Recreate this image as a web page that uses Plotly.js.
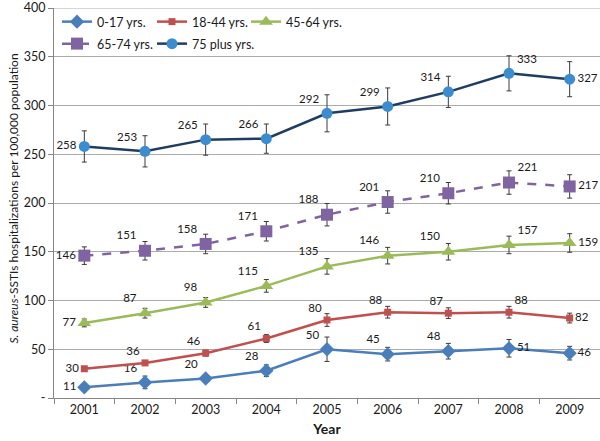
<!DOCTYPE html>
<html>
<head>
<meta charset="utf-8">
<script src="https://cdn.plot.ly/plotly-3.0.1.min.js"></script>
<style>html,body{margin:0;padding:0;background:#fff;}#chart{width:600px;height:441px;}</style>
</head>
<body>
<div id="chart"></div>
<script>
var years = ['2001','2002','2003','2004','2005','2006','2007','2008','2009'];
var seriesNames = ['0-17 yrs.','18-44 yrs.','45-64 yrs.','65-74 yrs.','75 plus yrs.'];
var age0_17  = [11,16,20,28,50,45,48,51,46];
var age18_44 = [30,36,46,61,80,88,87,88,82];
var age45_64 = [77,87,98,115,135,146,150,157,159];
var age65_74 = [146,151,158,171,188,201,210,221,217];
var age75p   = [258,253,265,266,292,299,314,333,327];
var err0_17  = [1,6.5,3.5,6,12.5,7,8,9,7];
var err18_44 = [1.5,2,3,4,6.5,6,5.5,6,5];
var err45_64 = [4,5,5,6.5,8,8.5,8.5,9,9.5];
var err65_74 = [9,9.5,10,10,11.5,11.5,11,12,12];
var err75p   = [16,16,16,15,19,19,16,18,18];
var yTickVals = [0,50,100,150,200,250,300,350,400];
var yTickText = ['-','50','100','150','200','250','300','350','400'];

var posA = ['middle left','top left','top left','top left','top left','top left','top left','top right','middle right'];
var posB = ['middle left','top left','top left','top left','top left','top left','top left','middle right','middle right'];

var FONT = 'Lato, sans-serif';
function mk(name, y, err, lineColor, lineDash, mSym, mSize, mColor, pos, legendId) {
  return {
    type: 'scatter', mode: 'lines+markers+text', name: name,
    x: years, y: y,
    text: y.map(String), textposition: pos,
    textfont: {family: FONT, size: 11.5, color: '#1a1a1a'},
    line: {color: lineColor, width: 2.5, dash: lineDash},
    marker: {symbol: mSym, size: mSize, color: mColor},
    error_y: {type: 'data', array: err, visible: true, color: '#3a3a3a', thickness: 1, width: 2.5},
    cliponaxis: false,
    legend: legendId
  };
}

var traces = [
  mk(seriesNames[0], age0_17, err0_17, '#4A7EBB', 'solid', 'diamond', 11, '#4A7EBB', posB, 'legend'),
  mk(seriesNames[1], age18_44, err18_44, '#C0504D', 'solid', 'square', 7, '#C0504D', posA, 'legend2'),
  mk(seriesNames[2], age45_64, err45_64, '#9BBB59', 'solid', 'triangle-up', 12, '#9BBB59', posA, 'legend3'),
  mk(seriesNames[3], age65_74, err65_74, '#8064A2', 'dash', 'square', 12, '#8064A2', posA, 'legend4'),
  mk(seriesNames[4], age75p, err75p, '#1F3D63', 'solid', 'circle', 11, '#3C8DD0', posA, 'legend5')
];

var T = 8, B = 43, PH = 441 - T - B;
function leg(px, rowPx) {
  return {
    orientation: 'h', bgcolor: 'rgba(0,0,0,0)', borderwidth: 0,
    xanchor: 'left', yanchor: 'middle',
    x: (px - 54) / 546, y: (441 - B - rowPx) / PH,
    font: {family: FONT, size: 12.5, color: '#1a1a1a'}
  };
}

var layout = {
  width: 600, height: 441,
  margin: {l: 54, r: 0, t: T, b: B},
  paper_bgcolor: '#fff', plot_bgcolor: '#fff',
  font: {family: FONT, size: 12, color: '#1a1a1a'},
  showlegend: true,
  legend: leg(57, 22),
  legend2: leg(152, 22),
  legend3: leg(246, 22),
  legend4: leg(57, 44),
  legend5: leg(152, 44),
  xaxis: {
    type: 'category', range: [-0.5, 8.5], tickson: 'boundaries',
    ticks: 'outside', ticklen: 5, tickcolor: '#868686',
    showline: true, linecolor: '#868686', linewidth: 1,
    showgrid: false, zeroline: false,
    tickfont: {family: FONT, size: 12.5, color: '#1a1a1a'},
    title: {text: '<b>Year</b>', font: {family: FONT, size: 14, color: '#1a1a1a'}, standoff: 8}
  },
  yaxis: {
    range: [0, 400], tickvals: yTickVals, ticktext: yTickText,
    ticks: 'outside', ticklen: 5, tickcolor: '#868686', ticklabeloverflow: 'allow',
    showline: true, linecolor: '#868686', linewidth: 1,
    showgrid: true, gridcolor: '#ABABAB', gridwidth: 1, zeroline: false,
    tickfont: {family: FONT, size: 12.5, color: '#1a1a1a'}
  },
  shapes: [{
    type: 'line', xref: 'paper', yref: 'y', x0: 0, x1: 1, y0: 400, y1: 400,
    line: {color: '#ABABAB', width: 1}, layer: 'below'
  }],
  annotations: [{
    xref: 'paper', yref: 'paper', x: -54/546 + 12.5/546, y: (441 - B - 199) / PH,
    xanchor: 'center', yanchor: 'middle', showarrow: false, textangle: -90,
    text: '<i>S. aureus</i>-SSTIs hospitalizations per 100,000 population',
    font: {family: FONT, size: 12, color: '#1a1a1a'}
  }]
};

Plotly.newPlot('chart', traces, layout, {displayModeBar: false, staticPlot: true});
</script>
</body>
</html>
